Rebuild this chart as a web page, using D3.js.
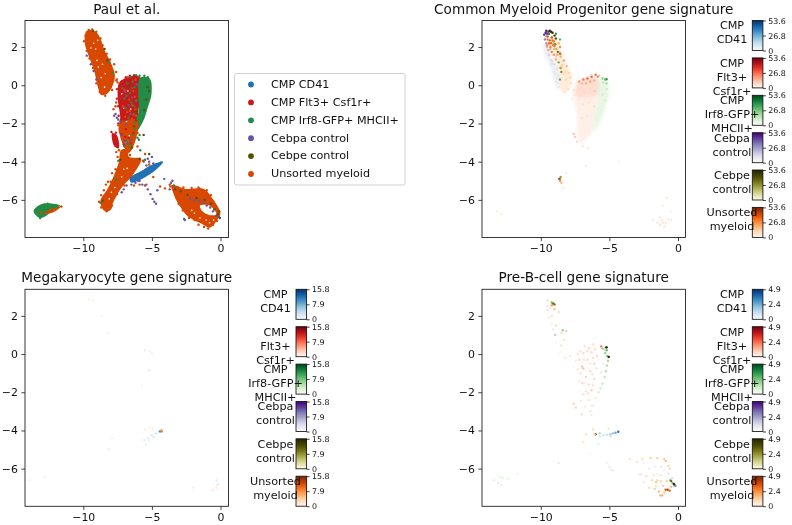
<!DOCTYPE html>
<html><head><meta charset="utf-8">
<script src="https://cdn.jsdelivr.net/npm/d3@7/dist/d3.min.js"></script>
<style>html,body{margin:0;padding:0;background:#fff}svg{display:block;filter:blur(0.4px)}text{font-family:"DejaVu Sans";fill:#111}</style>
</head><body><div id="c"></div>
<script>
const seriesNames=["CMP CD41","CMP Flt3+ Csf1r+","CMP Irf8-GFP+ MHCII+","Cebpa control","Cebpe control","Unsorted myeloid"];
const seriesLabelLines=[["CMP","CD41"],["CMP","Flt3+","Csf1r+"],["CMP","Irf8-GFP+","MHCII+"],["Cebpa","control"],["Cebpe","control"],["Unsorted","myeloid"]];
const seriesColors=["#2171b5","#cb181d","#238b45","#6a51a3","#525200","#d94801"];
const xTicks=[-10,-5,0], yTicks=[2,0,-2,-4,-6];
const titles=["Paul et al.","Common Myeloid Progenitor gene signature","Megakaryocyte gene signature","Pre-B-cell gene signature"];
const maxCmp=53.6,maxMeg=15.8,maxPreB=4.9;
// dense clouds of the first panel: outlines
const armCloud=[[-9.75,2.85],[-9.19,2.84],[-8.82,2.55],[-8.46,1.85],[-7.97,1.15],[-7.7,.54],[-7.8,.1],[-8.21,-.42],[-8.7,-.51],[-8.95,-.07],[-9.19,.71],[-9.68,1.67],[-9.9,2.28]];
const midBody=[[-7.41,.1],[-6.99,.36],[-6.02,.49],[-5.77,.28],[-5.89,-.77],[-6.02,-1.64],[-6.09,-2.34],[-6.5,-2.6],[-7.36,-2.51],[-7.31,-1.64],[-7.48,-.77]];
const midCloud=[[-7.38,-2.1],[-6.9,-1.85],[-6.05,-1.85],[-6.26,-3.04],[-6.7,-3.55],[-7.16,-3.04]];
const trunkCloud=[[-7.24,-3.39],[-6.75,-3.39],[-6.68,-3.74],[-5.8,-3.85],[-6.3,-4.6],[-7.2,-5.35],[-7.8,-6.1],[-8.05,-6.55],[-8.5,-6.55],[-8.75,-6.05],[-8.25,-5.45],[-7.78,-4.75],[-7.42,-4.05]];
const loopCloud=[[-3.56,-5.22],[-2.46,-5.43],[-1.25,-5.42],[-.52,-6],[.0,-6.7],[-.16,-6.96],[-.77,-7.45],[-1.37,-7.25],[-2.35,-6.88],[-2.95,-6.35],[-3.44,-5.65]];
const loopGap=[[-1.49,-6.3],[-.8,-6.3],[-.3,-6.75],[-.77,-6.8],[-1.37,-6.55]];
const leftOrange=[[-12.95,-6.72],[-11.6,-6.34],[-12.2,-6.66]];
const redSliver=[[-7.9,-2.51],[-7.56,-2.6],[-7.41,-3.3],[-7.73,-3.21]];
const greenBody=[[-5.85,.4],[-5.16,.36],[-5.02,-.42],[-5.28,-1.12],[-5.65,-1.9],[-6.14,-2.43],[-6.26,-2.08],[-5.95,-1.29],[-6.0,-.42]];
const greenLeft=[[-13.62,-6.56],[-12.98,-6.2],[-11.7,-6.3],[-12.24,-6.6],[-13.1,-6.95],[-13.5,-6.78]];
const blueStreak=[[-4.18,-4.0],[-4.67,-4.4],[-5.41,-4.78],[-6.5,-5.1],[-6.63,-4.87],[-5.65,-4.43],[-5.04,-4.17]];
const paulClouds=[[5,armCloud],[1,midBody],[2,greenBody],[5,midCloud],[5,trunkCloud],[5,loopCloud],[-1,loopGap],[1,redSliver],[2,greenLeft],[0,blueStreak],[5,leftOrange]];
// individual cells of the first panel
const paulBlue=[[-6.4,-4.9],[-6.1,-4.85],[-5.8,-4.7],[-5.5,-4.55],[-5.3,-4.4],[-5.1,-4.35],[-4.9,-4.25],[-4.6,-4.15],[-4.35,-4.05],[-5.6,-4.75],[-6.0,-5.0],[-5.2,-4.6],[-2.6,-7.05],[-.1,-6.9]];
const paulRed=[[-7.2,.2],[-6.9,.42],[-6.6,.5],[-6.3,.52],[-7.55,-.2],[-7.55,-.7],[-7.45,-1.1],[-7.42,-1.6],[-7.45,-2.0],[-7.95,-2.45],[-7.62,-2.48],[-6.15,-1.85],[-6.9,-2.3],[-6.7,-2.75],[-6.35,-2.5],[-6.95,-2.7],[-7.05,-3.1],[-6.55,-3.05],[-7.2,-2.55]];
const paulGreen=[[-6.6,-.4],[-6.8,.1],[-6.5,-.9],[-6.9,-1.2],[-6.3,-1.5],[-6.7,-1.7],[-6.4,.2],[-7,-.7],[-6.55,.45],[-6.15,.52],[-6.15,-.8],[-6.25,-1.95],[-6.4,-2.6],[-6.9,-2.95],[-6.6,-3.1],[-7,-3.2],[-6.25,-.1],[-6.5,-3.3],[-5.85,-3.4],[-5.5,-3.9],[-7.45,-3.95],[-7.6,-4.95],[-8.75,-6.15],[-8.1,1.2],[-7.85,.65],[-5.9,-2.6],[-6.25,-2.3],[-6.05,-2.75],[-6.3,-1.1],[-6.45,-.15],[-7.15,-.15],[-6.85,-.55],[-5.55,.5],[-5.3,.42],[-5.9,.5],[-5.95,-2.85],[-3.4,-5.25],[-13.15,-6.95],[-12.6,-6.2]];
const paulPurple=[[-9.75,1.55],[-9.45,1.1],[-9.25,.75],[-9.05,.3],[-7.75,-1.6],[-7.55,-1.7],[-7.65,-1.5],[-7.3,-1.9],[-7.45,-1.8],[-7.2,-2.6],[-6.8,-3.05],[-7,-2.9],[-6.7,-1.05],[-6.95,-.35],[-6.45,-.65],[-6.55,-1.5],[-6.85,-2.05],[-6.5,-2.85],[-6.1,.05],[-5.5,-5.25],[-5.3,-5.45],[-5.1,-5.7],[-4.95,-5.95],[-4.82,-6.1],[-4.7,-6.2],[-6.85,-5.25],[-7.05,-5.45],[-6.5,-5.2],[-6.2,-5.1],[-5.9,-5],[-5.3,-3.85],[-5.2,-4],[-5,-3.75],[-4.9,-4.1],[-5.6,-4],[-5.4,-4.2],[-4.6,-5.5],[-4.1,-4.9],[-2.2,-5.95],[-1.9,-6],[-1.6,-6.05],[-1.25,-6.15],[-1,-6.3],[-.75,-6.4],[-.55,-6.6],[-.3,-6.85],[-2.65,-7],[-3.6,-5.1],[-3.5,-5.0],[-3.7,-5.45],[-7.2,-5.6],[-5.7,-5.2]];
const paulOlive=[[-9.3,2.85],[-8.45,1.9],[-8.25,1.3],[-5.6,-2.6],[-5.2,-3.6],[-5.9,-3.85],[-6.45,-3.25],[-5.2,-.3],[-5.4,-.75],[-5.3,-.1],[-5.55,-1.3],[-6.1,-1.35],[-6.7,.0],[-6.3,-2.15],[-2.9,-5.55],[-2.4,-5.75],[-1.75,-5.9],[-1.15,-6.0],[-.7,-6.2],[-.45,-6.5],[-.2,-6.75],[-.05,-6.95],[-.1,-6.6],[-3.3,-5.45],[-7.3,-3.9],[-8.6,-6.05]];
const paulOrange=[
 [-7.6,.25],[-7.5,.15],[-6.75,.42],[-6.2,.3],[-6.35,-.3],[-6.65,-.75],[-6.25,-.6],[-6.8,-1.4],[-6.45,-1.75],[-7,-.25],[-7.1,-1.1],[-7.65,-1.1],[-7.8,-1.25],[-7.6,-.9],[-6.2,-1.25],[-7.45,-2.1],[-6.05,-2.5],[-6.95,-1.65],[-6.6,-1.35],[-6.35,-1.55],[-6.15,-1.6],[-7.1,-1.9],[-6.45,-1.05],[-7.6,-3.5],[-7.15,-3.6],[-7.4,-3.4],[-6.05,-3.2],
 [-8,-5.05],[-8.2,-5.05],[-8.5,-5.5],[-8.7,-5.75],[-7.9,-4.6],[-8.85,-6.1],[-8.7,-6.4],[-8.35,-5.2],[-7.65,-4.4],[-7.5,-3.75],[-6.5,-4.75],[-6.3,-5.25],[-5.9,-5.2],[-5.4,-5.2],[-4.4,-5.3],[-5.5,-3.6],[-5.2,-4.15],[-4.05,-5.4],[-4.9,-4.8],[-3.7,-5.2],[-5.65,-3.95],[-6.6,-3.65],[-6.45,-4.2],[-6.9,-4.95],[-7.0,-5.25],[-7.55,-5.7],[-7.9,-6.3],[-8.3,-6.6],[-8,-6.4],
 [-8,-.1],[-8.2,.75],[-7.75,1.1],[-7.6,.7],[-7.55,.3],[-7.9,-.25],[-8.4,-.55],[-8.8,-.35],[-9.05,.1],[-9.3,.9],[-9.55,1.4],[-9.75,1.8],[-9.95,2.3],[-9.85,2.6],[-9.6,2.9],[-9.35,2.92],[-9.05,2.8],[-8.75,2.45],[-8.6,2.1],[-8.3,1.65],[-8.05,1.35],
 [-3.65,-5.3],[-3.1,-5.35],[-2.7,-5.35],[-2.1,-5.38],[-1.6,-5.35],[-1,-5.5],[-.7,-5.75],[-3.2,-5.9],[-3.05,-6.2],[-2.75,-6.55],[-2.3,-6.95],[-1.9,-7.05],[-1.6,-7.3],[-1.2,-7.42],[-.9,-7.5],[-.55,-7.3],[-.25,-7.1],
 [-13.1,-6.65],[-11.6,-6.35],[-12.4,-6.5]];
const paulSeries=[paulBlue,paulRed,paulGreen,paulPurple,paulOlive,paulOrange];
// fleck positions where the clouds of the first panel are sparse
const paulSparse=[[-9.25,2.2],[-9.1,1.9],[-8.95,2.35],[-9.45,1.95],[-9,1.3],[-8.6,1.1],[-8.4,.6],[-8.7,.4],[-8.45,-.1],[-8.9,.95],[-6.9,-3],[-6.65,-2.65],[-7.05,-4.4],[-6.8,-4.35],[-7.2,-4.8],[-7.7,-5.35],[-8.1,-5.95],[-7.95,-5.6],[-1.5,-6.95],[-1.05,-7.05],[-.8,-7.2],[-2.1,-6.55],[-1.9,-6.7],[-.5,-7.05],[-7.05,-1.2],[-6.75,-.3],[-6.55,-1.25],[-6.85,-1.9],[-7.2,-.45]];
// wash areas of faint cells: [series, value, outline], signature panels
const cmpWashes=[
 [3,11,[[-9.7,2.3],[-9.1,1.3],[-8.6,.5],[-8.8,-.2],[-9.25,.9],[-9.8,1.9]]],
 [5,9,[[-9.5,2.4],[-8.9,2.5],[-8.3,1.3],[-7.8,.7],[-7.8,.1],[-8.2,-.4],[-8.6,-.2],[-8.7,.8]]],
 [1,11,[[-7.4,.1],[-7,.3],[-6.2,.45],[-5.8,.3],[-5.85,-.5],[-7.45,-.6]]],
 [1,5,[[-7.45,-.6],[-5.85,-.5],[-6.1,-1.8],[-6.3,-2.5],[-7.2,-3],[-7.35,-1.6]]],
 [2,9,[[-5.75,.4],[-5.15,.3],[-5.05,-.5],[-5.3,-1.2],[-5.7,-2],[-6.15,-2.4],[-6.1,-1.7],[-5.85,-.9]]]];
const cmpBlue=[[-9.2,2.5,18],[-9.4,2.1,12],[-9,1.9,14],[-8.9,1.5,12],[-8.6,1.7,14],[-9.15,1.15,8],[-8.75,.55,7]];
const cmpRed=[[-7.2,.2,20],[-6.9,.3,24],[-6.6,.35,28],[-6.3,.45,30],[-6,.55,26],[-5.85,.45,24],[-6.7,.1,16],[-6.4,.2,18],[-6.1,.25,16],[-7,.1,14],[-7.25,-.2,8],[-6.8,-.4,8],[-6.4,-.2,9],[-6.1,-.3,9],[-6.9,-1,6],[-6.5,-.9,6],[-6.1,-1.1,6],[-7,-1.7,5],[-6.6,-1.6,5],[-7.6,-2.55,12],[-7.5,-2.7,11],[-7.35,-2.95,8],[-8.5,1.6,9],[-8.4,1.25,7]];
const cmpGreen=[[-5.22,.32,44],[-5.3,.3,30],[-5.5,.35,22],[-5.2,.1,18],[-5.45,.15,14],[-5.2,-.2,12],[-5.5,-.5,10],[-5.3,-.8,9],[-5.6,-1.3,7],[-5.9,-1.8,6],[-8.6,.3,30],[-8.7,1.2,30],[-8.55,.9,24],[-9,1.9,22],[-8.6,2.4,30],[-8.9,2.7,36],[-5.75,.5,16],[-6.3,.55,12]];
const cmpPurple=[[-9.6,2.85,50],[-9.75,2.65,46],[-9.45,2.8,44],[-9.7,2.4,32],[-9.5,2.55,38],[-9.6,2.2,26],[-9.3,1.9,18],[-9.4,1.6,16],[-9.2,1.3,14],[-9,1.1,13],[-9.55,2,20],[-9.25,1.1,10],[-9.05,.7,10],[-8.8,.9,11],[-8.9,.2,8],[-8.7,-.1,8],[-8.45,.4,8],[-8.65,-4.9,48],[-9.05,2.2,20],[-9.65,2.75,48],[-9.55,2.7,44]];
const cmpOlive=[[-9.35,2.85,50],[-9.15,2.75,50],[-9.0,2.6,44],[-8.9,2.45,38],[-9.4,2.7,34],[-8.95,2.15,30],[-8.75,1.75,34],[-8.6,1.65,28],[-8.55,.9,22],[-8.5,.7,28],[-8.6,-4.95,30],[-8.55,-4.8,24],[-9.25,2.8,50]];
const cmpOrange=[[-9.5,2.4,30],[-9.35,2.35,34],[-9.2,2.5,36],[-9.55,2.1,26],[-9.3,2,30],[-9.05,2.3,28],[-9.2,1.75,30],[-9.05,1.6,24],[-8.85,1.9,22],[-8.6,2,26],[-8.9,1.35,20],[-8.55,1.5,20],[-8.3,1.3,22],[-8.45,1.05,14],[-8.1,1,16],[-8.2,.7,12],[-7.95,.65,12],[-7.85,.4,12],[-8.4,.6,10],[-8.15,.3,10],[-7.8,.1,9],[-8,-.2,8],[-8.3,-.35,6],[-7.6,-.25,8],[-7.55,-.5,7],[-7.7,-.7,5],[-9.4,2.2,32],[-9.1,2.1,30],[-9.25,2.2,34],[-9.45,1.85,22],[-9,2.05,30],[-8.8,1.6,22],[-9.15,2.35,32],[-9.6,2.55,26],[-8.7,2.2,20],[-6.95,-3.2,5],[-6.55,-3.3,5],[-6.7,-4.2,4],[-4.3,-4,3],[-8.6,-5,26],[-8.5,-5.1,18],[-8.4,-5.4,4],[-8.15,-4.6,4],[-1.3,-6.9,5],[-1.1,-7.2,6],[-1.3,-7.3,7],[-.9,-7.2,6],[-.7,-7,6],[-1.5,-7.2,5],[-1,-7.4,7],[-1.85,-7.05,4],[-1.2,-7.05,5],[-.5,-7.05,4],[-.8,-5.9,5],[-1.1,-6.3,4],[-13.2,-6.6,3],[-12.9,-6.75,3],[-.55,-6.6,3]];
const megBlue=[[-4.42,-4.05,10],[-4.7,-4.15,3],[-5,-4.25,2.4],[-5.3,-4.4,2],[-5.55,-4.5,1.8],[-5.45,-4.75,1.5],[-5.2,-4.5,1.6],[-.3,-6.6,1.4],[-.25,-6.85,1.5],[-.15,-6.8,1.2],[-4.85,-4.35,2]];
const megRed=[];
const megGreen=[[-5.5,.2,1.8],[-5.15,.15,1.2],[-5,.05,1],[-5.2,-.85,2.2],[-5.7,-1.65,1]];
const megPurple=[[-.2,-6.7,1]];
const megOlive=[[-4.3,-4.05,8]];
const megOrange=[[-4.3,-4.0,8],[-5.5,-3.95,1],[-5.2,-3.85,.9],[-4.95,-3.95,.9],[-9.6,2.85,.9],[-9.3,2.8,.9],[-8.65,2,.9],[-8.2,1.1,.7],[-7.9,-4.4,.9],[-8.15,-5,1.6],[-.55,-7.1,1.4],[-.3,-7,1.3],[-13.9,-6.6,.7],[-12.8,-6.45,.8],[-2,-7,.7]];
const preBWashes=[];
const preBBlue=[[-4.35,-4.07,3.6],[-4.55,-4.12,2.6],[-4.75,-4.15,2],[-4.95,-4.2,1.6],[-5.2,-4.22,1.2],[-5.45,-4.25,.9],[-5.7,-4.3,.7],[-4.9,-4.3,1],[-.3,-6.95,.7],[-2.7,-6.3,.5],[-5.8,-4.7,.5]];
const preBRed=[[-5.6,.4,2.2],[-5.5,.3,1.6],[-6.9,-.75,1.2],[-7,-.65,1],[-7.6,-2.6,.9],[-7.45,-2.8,.8],[-6.5,.3,.7],[-6.9,.05,.7],[-6.3,.1,.8],[-6.6,-.3,.7],[-7.2,-.3,.7],[-6.1,-.5,.8],[-6.4,-.9,.7],[-6.7,-1.2,.8],[-7,-1.5,.6],[-6.5,-1.6,.7],[-6.1,-1.3,.7],[-6.3,-1.9,.9],[-7.1,-1,.6],[-6.8,.4,.6],[-6.2,.5,.6],[-5.9,-.1,.7],[-6.6,.15,.6],[-7.3,-.8,.5],[-6.9,-2.1,.6],[-6.2,-.2,.6],[-6.5,-2.4,.5],[-7,-3.15,.5],[-6.4,-3,.5],[-6.7,-1.95,.5],[-7.1,.15,.5],[-6.85,-.3,.5],[-6.4,-.5,.5],[-5.95,-.75,.5],[-7.2,-1.4,.4],[-6.85,-1.55,.5],[-6.2,-1.65,.5],[-6.55,-2.05,.5],[-7.1,-2.45,.4],[-6.75,-2.75,.4],[-6.3,-2.7,.4],[-7.3,.0,.5],[-6.05,.25,.6],[-7.45,-.35,.4],[-6.25,-1.05,.5]];
const preBGreen=[[-5.25,.35,3.4],[-5.2,.2,2.6],[-5.15,-.1,2.4],[-5.3,.05,2.2],[-5.1,-.35,1.8],[-5.18,-.6,1.6],[-5.25,-.9,1.5],[-5.35,-1.2,1.3],[-5.5,-1.55,1.2],[-5.65,-1.8,1],[-5.8,-2,.9],[-6,-2.3,.7],[-5.5,-.5,.7],[-5.6,-.95,.7],[-6.15,-2.7,.5],[-6.3,-3.2,.5],[-5.4,.25,1.4],[-8.4,1.25,2],[-8.15,1.2,1.2],[-5.05,-3.9,.7],[-5.7,-4.15,1.6],[-8.7,-5.7,.7],[-13.4,-6.6,.6],[-13.1,-6.75,.6],[-12.8,-6.5,.5],[-12.4,-6.55,.5],[-12.9,-6.85,.5],[-11.7,-6.3,.4],[-13,-6.45,.5],[-.55,-6.6,2.6],[-.4,-6.75,2.4],[-1.25,-6.35,.7]];
const preBPurple=[[-8.95,1,1.6],[-9.5,2.8,1],[-9.4,1.9,.6],[-9.1,1.3,.6],[-9.3,2.4,.7],[-8.9,.6,.4],[-8.6,.1,.4],[-6.4,-5.2,.3],[-5,-5.9,.7],[-4.85,-6.05,.8],[-5.15,-5.7,.5],[-4.75,-6.1,.6],[-1.7,-5.9,.6],[-1.2,-5.9,.7],[-2.1,-6,.5],[-.7,-6.25,.9],[-.45,-6.5,1],[-.25,-6.85,3.6],[-.18,-6.9,3],[-1,-6.1,.5],[-2.5,-5.7,.4],[-1.5,-6.3,.4],[-9.55,2.5,.7],[-9.2,1.6,.5]];
const preBOlive=[[-9.1,2.65,3.4],[-9,2.6,3],[-9.2,2.7,2],[-5.05,-.15,4.7],[-5.2,.35,4.8],[-6,-4.2,3],[-.5,-6.65,3.2],[-1.6,-6.7,1],[-.3,-6.8,4.6]];
const preBOrange=[[-9.2,2.55,2.2],[-9,2.35,1.4],[-9.5,2.3,.8],[-9.2,2,.8],[-8.7,2.2,.8],[-8.9,1.5,.7],[-8.5,1.1,.9],[-8.3,.75,.7],[-8.5,.45,.6],[-7.85,-.1,.5],[-8.2,-.2,.5],[-6.1,-4.2,1],[-6.7,-4.2,.7],[-6.9,-4.6,.6],[-6.2,-3.95,.8],[-3.5,-5.5,.6],[-3,-5.65,.7],[-2.6,-5.5,.8],[-2,-5.45,1],[-1.5,-5.45,1.2],[-1,-5.5,1.3],[-.9,-5.6,1.6],[-.6,-6,1],[-2.8,-6.3,.5],[-2.3,-6.4,.7],[-1.9,-6.6,1],[-2.1,-7,.9],[-1.7,-7.05,1.2],[-1.4,-7.2,1.6],[-1.15,-7.4,1.8],[-.9,-7.1,3.4],[-.75,-7.1,3.8],[-.6,-7.15,3],[-1.1,-6.9,1.2],[-1.5,-6.6,1],[-.5,-6.95,1.6],[-1.25,-6.65,1],[-.8,-6.65,1.2],[-1.8,-6.35,.6],[-2.5,-6.7,.5],[-1.3,-7.4,1.6],[-1,-7.25,1.4],[-1.6,-6.9,.8],[-.7,-5.85,1]];
const panelDefs=[
 {max:maxCmp,washes:cmpWashes,series:[cmpBlue,cmpRed,cmpGreen,cmpPurple,cmpOlive,cmpOrange]},
 {max:maxMeg,washes:[],series:[megBlue,megRed,megGreen,megPurple,megOlive,megOrange]},
 {max:maxPreB,washes:preBWashes,series:[preBBlue,preBRed,preBGreen,preBPurple,preBOlive,preBOrange]}];
const olive=d3.interpolateRgbBasis(["#fbfbe8","#d4d48a","#8f8f26","#4d4d00","#242400"]);
const cmaps=[d3.interpolateBlues,d3.interpolateReds,d3.interpolateGreens,d3.interpolatePurples,olive,d3.interpolateOranges];

const svg=d3.select("#c").append("svg").attr("width",792).attr("height",525);
const defs=svg.append("defs");
cmaps.forEach((m,i)=>{const g=defs.append("linearGradient").attr("id","cm"+i).attr("x1",0).attr("y1",1).attr("x2",0).attr("y2",0);
 d3.range(0,1.001,.1).forEach(t=>g.append("stop").attr("offset",t).attr("stop-color",m(t)));});

const layout={w:203.5,h:217};
function panel(l,t,x0,title){
 const x=d3.scaleLinear().domain([(0-x0)/13.72,(layout.w-x0)/13.72]).range([0,layout.w]);
 const y=d3.scaleLinear().domain([3.39,-7.97]).range([0,layout.h]);
 const g=svg.append("g").attr("transform",`translate(${l},${t})`);
 const body=g.append("g");
 const ax=g.append("g").attr("transform",`translate(0,${layout.h})`).call(d3.axisBottom(x).tickValues(xTicks).tickSize(3.6).tickPadding(3.5).tickFormat(d=>String(d).replace("-","\u2212")));
 const ay=g.append("g").call(d3.axisLeft(y).tickValues(yTicks).tickSize(3.6).tickPadding(3.5).tickFormat(d=>String(d).replace("-","\u2212")));
 [ax,ay].forEach(a=>{a.selectAll("text").style("font-size","10.9px");a.select(".domain").remove();a.selectAll("line").attr("stroke","#222").attr("stroke-width",.85);});
 g.append("rect").attr("width",layout.w).attr("height",layout.h).attr("fill","none").attr("stroke","#222").attr("stroke-width",.9);
 g.append("text").attr("x",layout.w/2).attr("y",-7).attr("text-anchor","middle").style("font-size","13.6px").text(title);
 return {body,x,y};
}
const line=(x,y)=>d3.line().x(d=>x(d[0])).y(d=>y(d[1])).curve(d3.curveCatmullRomClosed.alpha(.5));

// Panel 1
{const {body,x,y}=panel(25,20.5,195.5,titles[0]);
 const L=line(x,y);
 paulClouds.forEach(([s,pts])=>body.append("path").attr("d",L(pts)).attr("fill",s<0?"#fff":seriesColors[s]));
 body.append("g").selectAll("circle").data(paulSparse).join("circle").attr("cx",d=>x(d[0])).attr("cy",d=>y(d[1])).attr("r",.8).attr("fill","#fff");
 paulSeries.forEach((pts,s)=>body.append("g").selectAll("circle").data(pts).join("circle").attr("cx",d=>x(d[0])).attr("cy",d=>y(d[1])).attr("r",1.2).attr("fill",seriesColors[s]));
 const lg=svg.append("g");
 lg.append("rect").attr("x",234.5).attr("y",73.5).attr("width",170.5).attr("height",111.5).attr("rx",2).attr("fill","#fff").attr("stroke","#ccc").attr("stroke-width",.9);
 const yRow=d3.scalePoint().domain(seriesNames).range([84,173.5]);
 seriesNames.forEach((n,i)=>{
  lg.append("circle").attr("cx",251).attr("cy",yRow(n)+.5).attr("r",2.9).attr("fill",seriesColors[i]);
  lg.append("text").attr("x",271).attr("y",yRow(n)+3.8).style("font-size","11.2px").text(n);
 });
}
function signature(l,t,x0,title,def,cbx,labelx){
 const {body,x,y}=panel(l,t,x0,title);
 const L=line(x,y);
 const col=s=>d3.scaleSequential(cmaps[s]).domain([0,def.max]);
 def.washes.forEach(([s,v,pts])=>body.append("path").attr("d",L(pts)).attr("fill",col(s)(v)).attr("opacity",.6).style("filter","blur(1.6px)"));
 def.series.forEach((pts,s)=>{const c=col(s);
  body.append("g").selectAll("circle").data(pts).join("circle").attr("cx",d=>x(d[0])).attr("cy",d=>y(d[1])).attr("r",1.2).attr("fill",d=>c(d[2]));});
 const tops=[0,37.4,74.8,112.2,149.5,186.9];
 seriesLabelLines.forEach((lines,i)=>{
  const h=30,top=t+tops[i],g=svg.append("g");
  const sc=d3.scaleLinear().domain([0,def.max]).range([top+h,top]);
  g.append("rect").attr("x",cbx).attr("y",top).attr("width",10.6).attr("height",h).attr("fill",`url(#cm${i})`).attr("stroke","#111").attr("stroke-width",.85);
  const a=g.append("g").attr("transform",`translate(${cbx+10.6},0)`).call(d3.axisRight(sc).tickValues([0,def.max/2,def.max]).tickSize(3).tickPadding(2.4).tickFormat((d,j)=>j==0?"0":d3.format(".1f")(j==1?Math.floor(def.max*5)/10:def.max)));
  a.select(".domain").remove();a.selectAll("line").attr("stroke","#111").attr("stroke-width",.8);a.selectAll("text").style("font-size","7.9px");
  lines.forEach((s,j)=>g.append("text").attr("x",labelx).attr("y",top+8.8+j*14).attr("text-anchor","middle").style("font-size","11.2px").text(s));
 });
}
signature(482,20.5,196,titles[1],panelDefs[0],752.3,732);
signature(25,289.3,195.5,titles[2],panelDefs[1],296,275.5);
signature(482,289.3,196,titles[3],panelDefs[2],752.3,732);
</script></body></html>
